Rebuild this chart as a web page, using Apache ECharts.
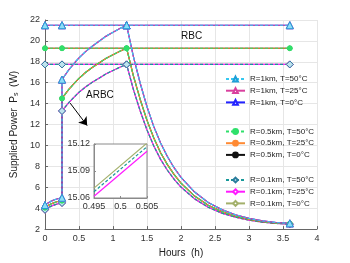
<!DOCTYPE html>
<html>
<head>
<meta charset="utf-8">
<script src="https://cdn.jsdelivr.net/npm/echarts@6/dist/echarts.min.js"></script>
<style>html,body{margin:0;padding:0;background:#fff}#c{width:350px;height:263px}</style>
</head>
<body>
<div id="c"></div>
<script>
// ---------- data ----------
const xTicks = [0, 0.5, 1, 1.5, 2, 2.5, 3, 3.5, 4];
const yTicks = [2, 4, 6, 8, 10, 12, 14, 16, 18, 20, 22];

const legendNames = [
  'R=1km, T=50°C', 'R=1km, T=25°C', 'R=1km, T=0°C',
  'R=0.5km, T=50°C', 'R=0.5km, T=25°C', 'R=0.5km, T=0°C',
  'R=0.1km, T=50°C', 'R=0.1km, T=25°C', 'R=0.1km, T=0°C'
];

// RBC (constant supplied power)
const rbcTimes = [0, 0.25, 1.2, 3.6];
const rbcR1 = [21.5, 21.5, 21.5, 21.5];
const rbcR05 = [19.3, 19.3, 19.3, 19.3];
const rbcR01 = [17.75, 17.75, 17.75, 17.75];

// ARBC: low phase (0 - 0.25 h)
const tLow = [0, 0.05, 0.1, 0.15, 0.2, 0.25];
const lowR1 = [4.30, 4.52, 4.70, 4.83, 4.93, 5.00];
const lowR05 = [4.05, 4.27, 4.44, 4.57, 4.66, 4.72];
const lowR01 = [3.85, 4.06, 4.22, 4.34, 4.43, 4.50];

// ARBC: rise phase (0.25 - 1.2 h)
const tRise = [0.25, 0.35, 0.45, 0.5, 0.6, 0.7, 0.8, 0.9, 1.0, 1.1, 1.2];
const riseR1 = [16.30, 17.24, 18.02, 18.38, 19.00, 19.52, 19.99, 20.46, 20.82, 21.19, 21.50];
const riseR05 = [14.50, 15.36, 16.08, 16.42, 17.00, 17.48, 17.91, 18.34, 18.68, 19.01, 19.30];
const riseR01 = [13.30, 14.10, 14.77, 15.09, 15.61, 16.06, 16.46, 16.86, 17.17, 17.48, 17.75];

// ARBC: decay phase (1.3 - 3.6 h)
const tDecay = [1.3, 1.4, 1.5, 1.6, 1.7, 1.8, 1.9, 2.0, 2.2, 2.4, 2.6, 2.8, 3.0, 3.2, 3.4, 3.6];
const decayR1 = [18.50, 15.95, 13.70, 11.80, 10.23, 8.94, 7.85, 6.94, 5.54, 4.55, 3.86, 3.37, 3.02, 2.78, 2.63, 2.55];
const decayR05 = [16.65, 14.40, 12.40, 10.72, 9.31, 8.17, 7.21, 6.40, 5.16, 4.28, 3.67, 3.23, 2.93, 2.72, 2.58, 2.52];
const decayR01 = [15.35, 13.30, 11.48, 9.95, 8.67, 7.63, 6.76, 6.02, 4.89, 4.09, 3.53, 3.14, 2.86, 2.66, 2.54, 2.48];

// Inset (zoom around 0.5 h, R=0.1km)
const insetT = [0.495, 0.505];
const insetT50 = [15.067, 15.117];
const insetT25 = [15.062, 15.112];
const insetT0 = [15.071, 15.121];

// annotation arrow (data coords)
const arrowFrom = [0.37, 14.05];
const arrowTo = [0.62, 11.9];

// ---------- styles ----------
const FONT = '"Liberation Sans", Arial, sans-serif';
const styles = {
  'R=1km, T=50°C':   {color:'#35C8F0', dash:true,  symbol:'triangle', size:7, fill:'#8FDDF7', border:'#1E9FD8'},
  'R=1km, T=25°C':   {color:'#D9409E', dash:false, symbol:'triangle', size:7, fill:'#ffffff', border:'#D9409E'},
  'R=1km, T=0°C':    {color:'#2222FF', dash:false, symbol:'triangle', size:7, fill:'#ffffff', border:'#2222FF'},
  'R=0.5km, T=50°C': {color:'#2FE06B', dash:true,  symbol:'circle', size:5, fill:'#2FE06B', border:'#2FE06B'},
  'R=0.5km, T=25°C': {color:'#FF8A33', dash:false, symbol:'circle', size:4, fill:'#FF8A33', border:'#FF8A33'},
  'R=0.5km, T=0°C':  {color:'#111111', dash:false, symbol:'circle', size:4, fill:'#111111', border:'#111111'},
  'R=0.1km, T=50°C': {color:'#17999A', dash:true,  symbol:'diamond', size:7, fill:'#BFE3EE', border:'#2A7C9C'},
  'R=0.1km, T=25°C': {color:'#FF1AFF', dash:false, symbol:'diamond', size:7, fill:'#ffffff', border:'#FF1AFF'},
  'R=0.1km, T=0°C':  {color:'#A3B06B', dash:false, symbol:'diamond', size:7, fill:'#ffffff', border:'#A3B06B'}
};

const groups = [
  {names:['R=0.1km, T=0°C','R=0.1km, T=25°C','R=0.1km, T=50°C'], rbc:rbcR01, low:lowR01, rise:riseR01, decay:decayR01},
  {names:['R=0.5km, T=0°C','R=0.5km, T=25°C','R=0.5km, T=50°C'], rbc:rbcR05, low:lowR05, rise:riseR05, decay:decayR05},
  {names:['R=1km, T=0°C','R=1km, T=25°C','R=1km, T=50°C'], rbc:rbcR1, low:lowR1, rise:riseR1, decay:decayR1}
];

function baseSeries(name, data, xi, yi) {
  const s = styles[name];
  return {
    type:'line', name:name, xAxisIndex:xi, yAxisIndex:yi, data:data,
    symbol:s.symbol, symbolSize:s.size, showAllSymbol:true, animation:false,
    lineStyle:{color:s.color, width:1.2, type: s.dash ? [3,2] : 'solid'},
    itemStyle:{color:s.fill, borderColor:s.border, borderWidth:1},
    emphasis:{disabled:true}
  };
}

const series = [];
groups.forEach(g => {
  g.names.forEach(name => {
    // RBC
    const rbcData = rbcTimes.map((t,i)=>({value:[t, g.rbc[i]]}));
    series.push(baseSeries(name, rbcData, 0, 0));
    // ARBC
    const pts = [];
    tLow.forEach((t,i)=>pts.push({value:[t, g.low[i]], mark: i===0 || i===tLow.length-1}));
    tRise.forEach((t,i)=>pts.push({value:[t, g.rise[i]], mark: i===0 || i===tRise.length-1}));
    tDecay.forEach((t,i)=>pts.push({value:[t, g.decay[i]], mark: i===tDecay.length-1}));
    const data = pts.map(p => p.mark ? {value:p.value} : {value:p.value, symbol:'none'});
    series.push(baseSeries(name, data, 0, 0));
  });
});

// inset series
const insetData = {'R=0.1km, T=0°C':insetT0, 'R=0.1km, T=25°C':insetT25, 'R=0.1km, T=50°C':insetT50};
['R=0.1km, T=0°C','R=0.1km, T=25°C','R=0.1km, T=50°C'].forEach(name => {
  const s = baseSeries(name, insetT.map((t,i)=>({value:[t, insetData[name][i]], symbol:'none'})), 1, 1);
  s.z = 5; s.clip = true;
  series.push(s);
});

// arrow annotation
series.push({
  type:'line', data:[], xAxisIndex:0, yAxisIndex:0, silent:true, z:6,
  markLine:{silent:true, symbol:['none','arrow'], symbolSize:8, animation:false,
    lineStyle:{color:'#000', width:1, type:'solid'}, itemStyle:{color:'#000'}, label:{show:false},
    emphasis:{disabled:true},
    data:[[{coord:arrowFrom},{coord:arrowTo}]]}
});

const legendGroups = [legendNames.slice(0,3), legendNames.slice(3,6), legendNames.slice(6,9)];
const legendTops = [74, 126.5, 175];
const legends = legendGroups.map((names,i)=>({
  data:names, orient:'vertical', left:225, top:legendTops[i],
  itemWidth:19, itemHeight:6, itemGap:1.7, padding:0,
  textStyle:{fontSize:8, lineHeight:10, color:'#222', fontFamily:FONT},
  selectedMode:false
}));

const chart = echarts.init(document.getElementById('c'), null, {renderer:'canvas'});
chart.setOption({
  backgroundColor:'#fff',
  animation:false,
  textStyle:{fontFamily:FONT},
  grid:[
    {left:45, right:33, top:20, bottom:29, containLabel:false},
    {left:94, top:144, width:53, height:54, show:true, backgroundColor:'#fff', borderColor:'#8a8a8a', borderWidth:1, z:3}
  ],
  xAxis:[
    {type:'value', gridIndex:0, min:xTicks[0], max:xTicks[xTicks.length-1], interval:0.5,
     name:'Hours  (h)', nameLocation:'middle', nameGap:17,
     nameTextStyle:{fontSize:10, color:'#222', fontFamily:FONT},
     axisLine:{show:true, onZero:false, lineStyle:{color:'#666'}},
     axisTick:{show:true, inside:true, length:3, lineStyle:{color:'#666'}},
     axisLabel:{fontSize:9, color:'#333', margin:5, fontFamily:FONT},
     splitLine:{show:true, lineStyle:{color:'#e6e6e6', width:1}}},
    {type:'value', gridIndex:1, min:0.495, max:0.505, interval:0.005, z:3,
     axisLine:{show:true, onZero:false, lineStyle:{color:'#8a8a8a'}},
     axisTick:{show:true, inside:true, length:2, lineStyle:{color:'#8a8a8a'}},
     axisLabel:{fontSize:9, color:'#333', margin:4, fontFamily:FONT, formatter:v=>String(parseFloat(v.toFixed(3)))},
     splitLine:{show:false}}
  ],
  yAxis:[
    {type:'value', gridIndex:0, min:yTicks[0], max:yTicks[yTicks.length-1], interval:2,
     name:'{a|Supplied Power  P}{s|s}{a|  (W)}', nameLocation:'middle', nameGap:19, nameRotate:90,
     nameTextStyle:{fontSize:10, color:'#222', fontFamily:FONT,
       rich:{a:{fontSize:10, color:'#222', fontFamily:FONT, verticalAlign:'bottom', lineHeight:14},
             s:{fontSize:7, color:'#222', fontFamily:FONT, verticalAlign:'bottom', lineHeight:10}}},
     axisLine:{show:true, onZero:false, lineStyle:{color:'#666'}},
     axisTick:{show:true, inside:true, length:3, lineStyle:{color:'#666'}},
     axisLabel:{fontSize:9, color:'#333', margin:5, fontFamily:FONT},
     splitLine:{show:true, lineStyle:{color:'#e6e6e6', width:1}}},
    {type:'value', gridIndex:1, min:15.06, max:15.12, interval:0.03, z:3,
     axisLine:{show:true, onZero:false, lineStyle:{color:'#8a8a8a'}},
     axisTick:{show:true, inside:true, length:2, lineStyle:{color:'#8a8a8a'}},
     axisLabel:{fontSize:9, color:'#333', margin:4, fontFamily:FONT, formatter:v=>v.toFixed(2)},
     splitLine:{show:false}}
  ],
  legend:legends,
  graphic:[
    {type:'text', left:181, top:31, style:{text:'RBC', fontSize:10, fill:'#111', fontFamily:FONT}, z:10},
    {type:'text', left:86, top:90, style:{text:'ARBC', fontSize:10, fill:'#111', fontFamily:FONT}, z:10}
  ],
  series:series
});
</script>
</body>
</html>
